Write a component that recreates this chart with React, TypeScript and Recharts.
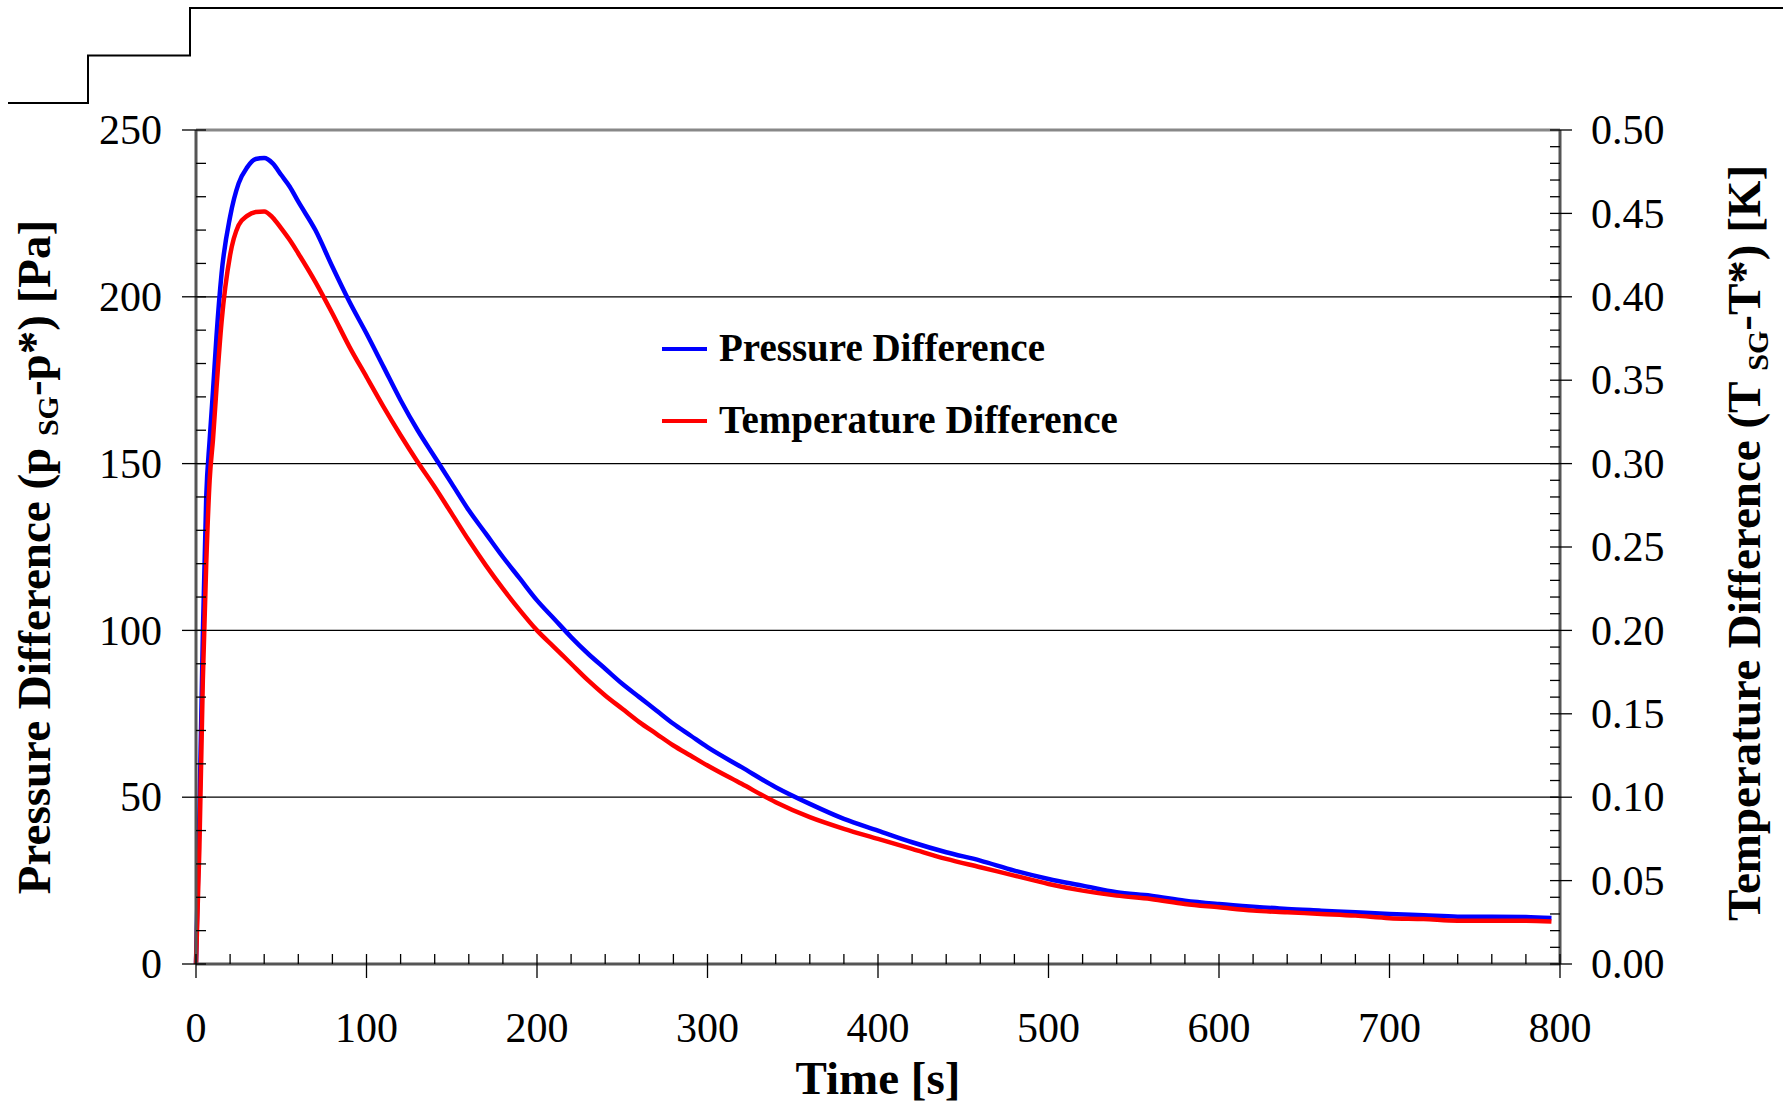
import { LineChart, Line, XAxis, YAxis, ReferenceLine, Legend } from 'recharts';

// time [s]
const time = [
  0, 2, 4, 6, 8, 10, 12, 15, 20, 25, 30, 35, 40, 45, 50, 55, 60,
  70, 80, 90, 100, 110, 120, 130, 140, 150, 160, 170, 180, 190, 200, 210, 220, 230, 240, 250, 260, 270, 280, 290, 300,
  320, 340, 360, 380, 400, 420, 440, 460, 480, 500, 520, 540, 560, 580, 600, 620, 640, 660, 680, 700, 720, 740, 760, 780,
  795,
];

// pressure difference [Pa]
const pressure = [
  0, 45, 98, 140, 157, 172, 188, 207, 224, 234, 238.8, 241.3, 241.6, 240, 236.5, 233, 228.5,
  220, 209, 198.5, 189, 179, 169, 160, 152, 144, 136, 129, 122, 115.5, 109, 103.5, 98, 93, 88.5, 84, 80, 76, 72, 68.5, 65,
  59, 53, 48, 43.5, 40, 36.5, 33.5, 31, 28, 25.5, 23.5, 21.5, 20.5, 19, 18, 17.2, 16.5, 16, 15.5, 15, 14.6, 14.2, 14.2, 14.1,
  13.8,
];

// temperature difference [K]
const temperature = [
  0, 0.07, 0.17, 0.24, 0.29, 0.315, 0.345, 0.385, 0.425, 0.443, 0.4485, 0.4508, 0.4512, 0.4475, 0.441, 0.434, 0.426,
  0.409, 0.39, 0.37, 0.352, 0.334, 0.317, 0.301, 0.286, 0.27, 0.254, 0.239, 0.225, 0.212, 0.2, 0.19, 0.18, 0.17, 0.161, 0.153, 0.145, 0.138, 0.131, 0.125, 0.119,
  0.108, 0.097, 0.088, 0.081, 0.075, 0.069, 0.063, 0.058, 0.053, 0.048, 0.044, 0.041, 0.039, 0.036, 0.034, 0.032, 0.031, 0.03, 0.029, 0.0275, 0.027, 0.026, 0.026, 0.026,
  0.0255,
];

const xTicks = Array.from({ length: 41 }, (_, i) => i * 20);
const leftTicks = Array.from({ length: 26 }, (_, i) => i * 10);
const rightTicks = Array.from({ length: 51 }, (_, i) => i / 100);
const gridLevels = [50, 100, 150, 200];

// step trace cut off at the top of the figure
const stepTimes = [0, 80, 182, 1775];
const stepLevels = [0, 1, 2, 2];

const data = time.map((t, i) => ({ time: t, p: pressure[i], T: temperature[i] }));
const stepData = stepTimes.map((t, i) => ({ t, v: stepLevels[i] }));

const FONT = "'Liberation Serif', 'Times New Roman', serif";

const BottomTick = ({ x, y, payload }: any) => {
  const major = payload.value % 100 === 0;
  return (
    <g>
      <line x1={x} x2={x} y1={y - 10} y2={major ? y + 14 : y} stroke="#000" strokeWidth={1.3} />
      {major && (
        <text x={x} y={y + 78} textAnchor="middle" fontSize={42} fontFamily={FONT} fill="#000">
          {payload.value}
        </text>
      )}
    </g>
  );
};

const LeftTick = ({ x, y, payload }: any) => {
  const major = payload.value % 50 === 0;
  return (
    <g>
      <line x1={major ? x - 14 : x} x2={x + 10} y1={y} y2={y} stroke="#000" strokeWidth={1.3} />
      {major && (
        <text x={x - 34} y={y} dy="0.34em" textAnchor="end" fontSize={42} fontFamily={FONT} fill="#000">
          {payload.value}
        </text>
      )}
    </g>
  );
};

const RightTick = ({ x, y, payload }: any) => {
  const major = Math.round(payload.value * 100) % 5 === 0;
  return (
    <g>
      <line x1={x - 10} x2={major ? x + 12 : x} y1={y} y2={y} stroke="#000" strokeWidth={1.3} />
      {major && (
        <text x={x + 31} y={y} dy="0.34em" textAnchor="start" fontSize={42} fontFamily={FONT} fill="#000">
          {payload.value.toFixed(2)}
        </text>
      )}
    </g>
  );
};

const LeftTitle = () => (
  <text transform="translate(50, 557) rotate(-90)" textAnchor="middle" fontSize={47} fontWeight="bold" fontFamily={FONT} fill="#000">
    {'Pressure Difference (p '}
    <tspan fontSize={30} dy={8}>SG</tspan>
    <tspan dy={-8}>{'-p*) [Pa]'}</tspan>
  </text>
);

const RightTitle = () => (
  <text transform="translate(1760, 543) rotate(-90)" textAnchor="middle" fontSize={47} fontWeight="bold" fontFamily={FONT} fill="#000">
    {'Temperature Difference (T '}
    <tspan fontSize={30} dy={8}>SG</tspan>
    <tspan dy={-8}>{'-T*) [K]'}</tspan>
  </text>
);

const BottomTitle = () => (
  <text x={878} y={1094} textAnchor="middle" fontSize={47} fontWeight="bold" fontFamily={FONT} fill="#000">
    Time [s]
  </text>
);

const LegendBox = ({ payload }: any) => (
  <svg width={520} height={130}>
    {(payload || []).map((e: any, i: number) => (
      <g key={e.value}>
        <line x1={2} x2={47} y1={30 + i * 72} y2={30 + i * 72} stroke={e.color} strokeWidth={4} />
        <text x={59} y={42 + i * 72} fontSize={39} fontWeight="bold" fontFamily={FONT} fill="#000">
          {e.value}
        </text>
      </g>
    ))}
  </svg>
);

export default function App() {
  return (
    <div style={{ position: 'absolute', left: 0, top: 0, width: 1783, height: 1104, background: '#fff' }}>
      <div style={{ position: 'absolute', left: 0, top: 0 }}>
        <LineChart width={1783} height={112} data={stepData} margin={{ top: 8, right: 0, bottom: 9, left: 8 }}>
          <XAxis dataKey="t" type="number" domain={[0, 1775]} hide />
          <YAxis domain={[0, 2]} hide />
          <Line dataKey="v" type="stepAfter" stroke="#000" strokeWidth={2} dot={false} isAnimationActive={false} />
        </LineChart>
      </div>
      <div style={{ position: 'absolute', left: 0, top: 0 }}>
        <LineChart width={1783} height={1104} data={data} margin={{ top: 130, right: 0, bottom: 0, left: 0 }}>
          <XAxis
            dataKey="time"
            type="number"
            domain={[0, 800]}
            ticks={xTicks}
            interval={0}
            height={140}
            tickSize={0}
            tickMargin={0}
            tickLine={false}
            axisLine={{ stroke: '#555', strokeWidth: 3 }}
            tick={BottomTick}
            label={BottomTitle}
          />
          <YAxis
            yAxisId="p"
            orientation="left"
            domain={[0, 250]}
            ticks={leftTicks}
            interval={0}
            width={196}
            tickSize={0}
            tickMargin={0}
            tickLine={false}
            axisLine={{ stroke: '#555', strokeWidth: 3 }}
            tick={LeftTick}
            label={LeftTitle}
          />
          <YAxis
            yAxisId="t"
            orientation="right"
            domain={[0, 0.5]}
            ticks={rightTicks}
            interval={0}
            width={223}
            tickSize={0}
            tickMargin={0}
            tickLine={false}
            axisLine={{ stroke: '#555', strokeWidth: 3 }}
            tick={RightTick}
            label={RightTitle}
          />
          {gridLevels.map((g) => (
            <ReferenceLine key={g} yAxisId="p" y={g} stroke="#000" strokeWidth={1.2} />
          ))}
          <ReferenceLine yAxisId="p" y={250} stroke="#888" strokeWidth={3} />
          <Legend
            layout="horizontal"
            verticalAlign="middle"
            align="center"
            content={LegendBox}
            wrapperStyle={{ left: 660, top: 319, width: 520, height: 130 }}
          />
          <Line
            yAxisId="p"
            dataKey="p"
            name="Pressure Difference"
            type="monotone"
            stroke="#0000ff"
            strokeWidth={4.5}
            dot={false}
            isAnimationActive={false}
          />
          <Line
            yAxisId="t"
            dataKey="T"
            name="Temperature Difference"
            type="monotone"
            stroke="#ff0000"
            strokeWidth={4.5}
            dot={false}
            isAnimationActive={false}
          />
        </LineChart>
      </div>
    </div>
  );
}
